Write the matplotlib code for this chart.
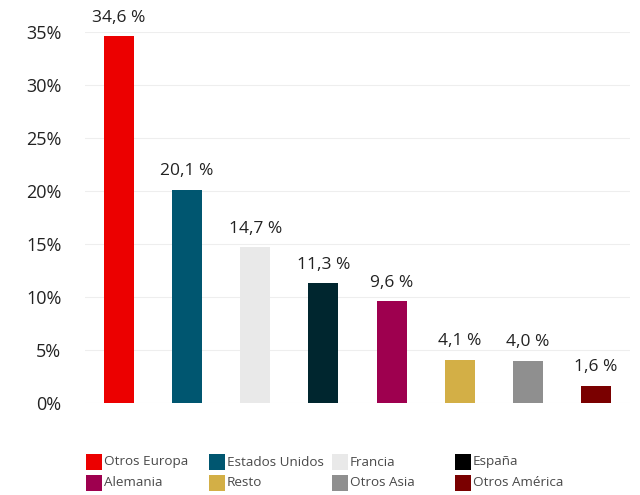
import matplotlib
matplotlib.use("Agg")
import matplotlib.pyplot as plt
from matplotlib.patches import Rectangle

plt.rcParams["font.family"] = ["Open Sans", "DejaVu Sans"]

categories = ["Otros Europa", "Estados Unidos", "Francia", "España",
              "Alemania", "Resto", "Otros Asia", "Otros América"]
values = [34.6, 20.1, 14.7, 11.3, 9.6, 4.1, 4.0, 1.6]
bar_colors = ["#EC0000", "#005670", "#E9E9E9", "#00262F",
              "#9E004F", "#D3AF46", "#8F8F8F", "#7A0000"]
legend_colors = ["#EC0000", "#005670", "#E9E9E9", "#000000",
                 "#9E004F", "#D3AF46", "#8F8F8F", "#7A0000"]
yticks = [0, 5, 10, 15, 20, 25, 30, 35]

W, H = 640, 495
fig = plt.figure(figsize=(W / 100, H / 100), dpi=100)
ax = fig.add_axes([85 / W, 1 - 403 / H, 545 / W, (403 - 32) / H])

x = range(len(categories))
ax.bar(x, values, width=0.44, color=bar_colors, zorder=3)
for xi, v in zip(x, values):
    ax.text(xi, v + 1.0, f"{v:.1f} %".replace(".", ","), ha="center", va="bottom",
            fontsize=12.5, color="#222222", clip_on=False)

ax.set_xlim(-0.5, len(categories) - 0.5)
ax.set_ylim(0, 35)
ax.set_yticks(yticks)
ax.set_yticklabels([f"{t}%" for t in yticks], fontsize=13, color="#222222")
ax.set_xticks([])
ax.tick_params(axis="y", length=0, pad=17)
ax.grid(axis="y", color="#EEEEEE", linewidth=0.8, zorder=0)
for s in ax.spines.values():
    s.set_visible(False)

# legend: two rows of four, fixed column positions
col_x = [86, 209, 332, 455]
row_y = [462, 483]
sw = 16
for i, (name, col) in enumerate(zip(categories, legend_colors)):
    r, c = divmod(i, 4)
    x0 = col_x[c]
    yc = row_y[r]
    fig.patches.append(Rectangle((x0 / W, 1 - (yc + sw / 2) / H), sw / W, sw / H,
                                 transform=fig.transFigure, facecolor=col,
                                 edgecolor="none"))
    fig.text((x0 + sw + 2) / W, 1 - yc / H, name, ha="left", va="center",
             fontsize=9.7, color="#4A4A4A")

fig.savefig("out.png", dpi=100)
